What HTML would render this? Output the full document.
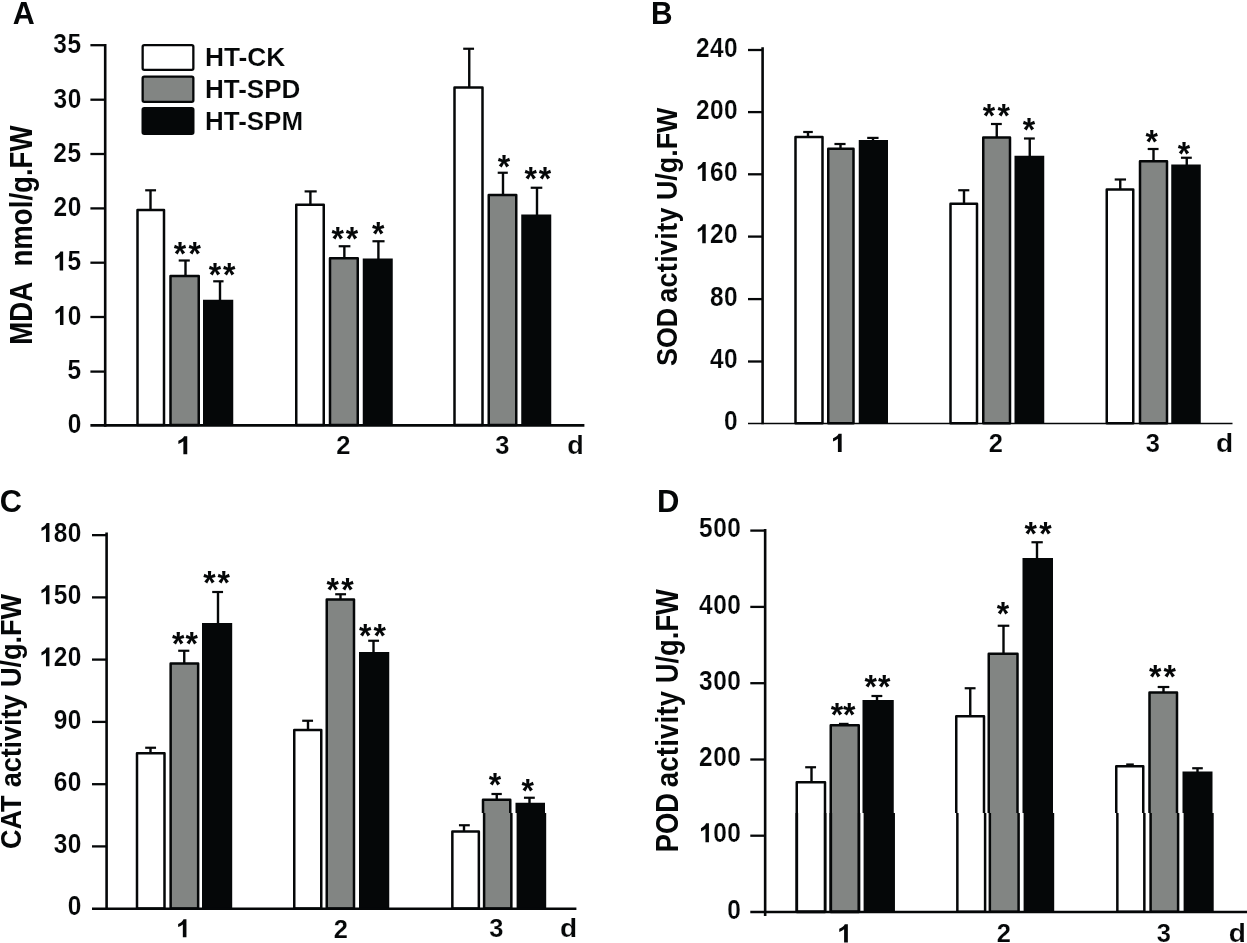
<!DOCTYPE html>
<html><head><meta charset="utf-8"><title>Figure</title>
<style>
html,body{margin:0;padding:0;background:#fff;}
svg{display:block;filter:blur(0.35px);}
text{font-family:"Liberation Sans",sans-serif;font-weight:bold;fill:#050708;stroke:#fff;stroke-width:0.15px;vector-effect:non-scaling-stroke;}
text.st{stroke:none;}
</style></head>
<body>
<svg width="1247" height="943" viewBox="0 0 1247 943">
<rect width="1247" height="943" fill="#fff"/>
<rect x="137.50" y="210.00" width="26.50" height="215.10" fill="#fff" stroke="#050708" stroke-width="2.5" stroke-linejoin="round"/>
<rect x="170.50" y="276.00" width="28.25" height="149.10" fill="#828583" stroke="#050708" stroke-width="2.5" stroke-linejoin="round"/>
<rect x="203.00" y="299.75" width="30.25" height="125.65" fill="#050708"/>
<rect x="296.25" y="204.75" width="27.50" height="220.35" fill="#fff" stroke="#050708" stroke-width="2.5" stroke-linejoin="round"/>
<rect x="330.00" y="258.35" width="27.75" height="166.75" fill="#828583" stroke="#050708" stroke-width="2.5" stroke-linejoin="round"/>
<rect x="362.75" y="258.50" width="30.00" height="166.90" fill="#050708"/>
<rect x="454.50" y="87.50" width="28.00" height="337.60" fill="#fff" stroke="#050708" stroke-width="2.5" stroke-linejoin="round"/>
<rect x="488.75" y="195.00" width="27.50" height="230.10" fill="#828583" stroke="#050708" stroke-width="2.5" stroke-linejoin="round"/>
<rect x="521.25" y="214.50" width="30.00" height="210.90" fill="#050708"/>
<line x1="150.50" y1="190.30" x2="150.50" y2="209.75" stroke="#050708" stroke-width="2.4" stroke-linecap="butt"/>
<line x1="145.20" y1="190.30" x2="156.05" y2="190.30" stroke="#050708" stroke-width="2.2" stroke-linecap="butt"/>
<line x1="185.50" y1="260.50" x2="185.50" y2="275.75" stroke="#050708" stroke-width="2.4" stroke-linecap="butt"/>
<line x1="178.70" y1="260.50" x2="189.80" y2="260.50" stroke="#050708" stroke-width="2.2" stroke-linecap="butt"/>
<line x1="220.00" y1="281.30" x2="220.00" y2="300.75" stroke="#050708" stroke-width="2.4" stroke-linecap="butt"/>
<line x1="213.20" y1="281.30" x2="223.55" y2="281.30" stroke="#050708" stroke-width="2.2" stroke-linecap="butt"/>
<line x1="310.40" y1="191.40" x2="310.40" y2="204.50" stroke="#050708" stroke-width="2.4" stroke-linecap="butt"/>
<line x1="304.60" y1="191.40" x2="316.70" y2="191.40" stroke="#050708" stroke-width="2.2" stroke-linecap="butt"/>
<line x1="344.35" y1="246.25" x2="344.35" y2="258.10" stroke="#050708" stroke-width="2.4" stroke-linecap="butt"/>
<line x1="338.70" y1="246.25" x2="350.40" y2="246.25" stroke="#050708" stroke-width="2.2" stroke-linecap="butt"/>
<line x1="378.40" y1="241.25" x2="378.40" y2="259.50" stroke="#050708" stroke-width="2.4" stroke-linecap="butt"/>
<line x1="372.45" y1="241.25" x2="384.55" y2="241.25" stroke="#050708" stroke-width="2.2" stroke-linecap="butt"/>
<line x1="469.25" y1="48.75" x2="469.25" y2="87.25" stroke="#050708" stroke-width="2.4" stroke-linecap="butt"/>
<line x1="463.20" y1="48.75" x2="474.05" y2="48.75" stroke="#050708" stroke-width="2.2" stroke-linecap="butt"/>
<line x1="503.00" y1="172.75" x2="503.00" y2="194.75" stroke="#050708" stroke-width="2.4" stroke-linecap="butt"/>
<line x1="497.70" y1="172.75" x2="507.80" y2="172.75" stroke="#050708" stroke-width="2.2" stroke-linecap="butt"/>
<line x1="537.00" y1="187.75" x2="537.00" y2="215.50" stroke="#050708" stroke-width="2.4" stroke-linecap="butt"/>
<line x1="530.70" y1="187.75" x2="542.30" y2="187.75" stroke="#050708" stroke-width="2.2" stroke-linecap="butt"/>
<line x1="105.20" y1="43.90" x2="105.20" y2="426.70" stroke="#050708" stroke-width="2.6" stroke-linecap="butt"/>
<line x1="90.40" y1="425.40" x2="584.40" y2="425.40" stroke="#050708" stroke-width="2.6" stroke-linecap="butt"/>
<line x1="90.40" y1="45.20" x2="105.20" y2="45.20" stroke="#050708" stroke-width="2.3" stroke-linecap="butt"/>
<text transform="matrix(0.2446 0 0 0.2709 53.28 53.08)" font-size="100">3</text>
<text transform="matrix(0.2446 0 0 0.2709 67.40 53.08)" font-size="100">5</text>
<line x1="90.40" y1="99.70" x2="105.20" y2="99.70" stroke="#050708" stroke-width="2.3" stroke-linecap="butt"/>
<text transform="matrix(0.2446 0 0 0.2709 53.59 107.58)" font-size="100">3</text>
<text transform="matrix(0.2446 0 0 0.2709 67.70 107.58)" font-size="100">0</text>
<line x1="90.40" y1="154.00" x2="105.20" y2="154.00" stroke="#050708" stroke-width="2.3" stroke-linecap="butt"/>
<text transform="matrix(0.2446 0 0 0.2709 53.28 161.91)" font-size="100">2</text>
<text transform="matrix(0.2446 0 0 0.2709 67.40 161.91)" font-size="100">5</text>
<line x1="90.40" y1="208.40" x2="105.20" y2="208.40" stroke="#050708" stroke-width="2.3" stroke-linecap="butt"/>
<text transform="matrix(0.2446 0 0 0.2709 53.59 216.31)" font-size="100">2</text>
<text transform="matrix(0.2446 0 0 0.2709 67.70 216.31)" font-size="100">0</text>
<line x1="90.40" y1="262.70" x2="105.20" y2="262.70" stroke="#050708" stroke-width="2.3" stroke-linecap="butt"/>
<path d="M63.14 270.48 L59.67 270.48 L59.67 256.83 Q57.76 258.69 55.18 259.58 L55.18 256.29 Q56.54 255.83 58.13 254.53 Q59.73 253.24 60.32 251.51 L63.14 251.51 Z" fill="#050708"/>
<text transform="matrix(0.2446 0 0 0.2709 67.40 270.48)" font-size="100">5</text>
<line x1="90.40" y1="317.00" x2="105.20" y2="317.00" stroke="#050708" stroke-width="2.3" stroke-linecap="butt"/>
<path d="M63.45 324.91 L59.97 324.91 L59.97 311.27 Q58.07 313.12 55.49 314.01 L55.49 310.73 Q56.85 310.27 58.44 308.97 Q60.04 307.68 60.63 305.95 L63.45 305.95 Z" fill="#050708"/>
<text transform="matrix(0.2446 0 0 0.2709 67.70 324.91)" font-size="100">0</text>
<line x1="90.40" y1="371.60" x2="105.20" y2="371.60" stroke="#050708" stroke-width="2.3" stroke-linecap="butt"/>
<text transform="matrix(0.2446 0 0 0.2709 67.40 379.38)" font-size="100">5</text>
<text transform="matrix(0.2446 0 0 0.2709 67.70 433.31)" font-size="100">0</text>
<path d="M187.25 454.35 L183.37 454.35 L183.37 441.26 Q181.24 443.04 178.35 443.89 L178.35 440.74 Q179.87 440.29 181.65 439.05 Q183.44 437.81 184.10 436.15 L187.25 436.15 Z" fill="#050708"/>
<text transform="matrix(0.2551 0 0 0.2630 336.23 454.47)" font-size="100">2</text>
<text transform="matrix(0.2551 0 0 0.2630 495.13 454.46)" font-size="100">3</text>
<text transform="matrix(0.2703 0 0 0.2578 567.27 454.39)" font-size="100">d</text>
<text transform="matrix(0.3045 0 0 0.3049 12.74 24.06)" font-size="100" class="st">A</text>
<text class="st" transform="matrix(0 -0.2761 0.3069 0 32.00 344.76)" font-size="100">MDA&#160;&#160;nmol/g.FW</text>
<text transform="matrix(0.3195 0 0 0.3356 173.77 265.12)" font-size="100" class="st">*</text>
<text transform="matrix(0.3195 0 0 0.3356 188.42 265.12)" font-size="100" class="st">*</text>
<text transform="matrix(0.3195 0 0 0.3329 208.82 285.59)" font-size="100" class="st">*</text>
<text transform="matrix(0.3195 0 0 0.3329 223.12 285.59)" font-size="100" class="st">*</text>
<text transform="matrix(0.3195 0 0 0.3289 331.42 250.36)" font-size="100" class="st">*</text>
<text transform="matrix(0.3195 0 0 0.3289 345.72 250.36)" font-size="100" class="st">*</text>
<text transform="matrix(0.3195 0 0 0.3356 372.10 244.97)" font-size="100" class="st">*</text>
<text transform="matrix(0.3195 0 0 0.3329 497.72 177.79)" font-size="100" class="st">*</text>
<text transform="matrix(0.3195 0 0 0.3329 524.42 189.79)" font-size="100" class="st">*</text>
<text transform="matrix(0.3195 0 0 0.3329 538.77 189.79)" font-size="100" class="st">*</text>
<rect x="795.50" y="137.00" width="27.00" height="286.20" fill="#fff" stroke="#050708" stroke-width="2.5" stroke-linejoin="round"/>
<rect x="828.25" y="148.75" width="25.25" height="274.45" fill="#828583" stroke="#050708" stroke-width="2.5" stroke-linejoin="round"/>
<rect x="858.75" y="140.00" width="29.25" height="283.50" fill="#050708"/>
<rect x="950.50" y="203.75" width="26.50" height="219.45" fill="#fff" stroke="#050708" stroke-width="2.5" stroke-linejoin="round"/>
<rect x="983.25" y="137.50" width="26.75" height="285.70" fill="#828583" stroke="#050708" stroke-width="2.5" stroke-linejoin="round"/>
<rect x="1014.50" y="155.75" width="29.75" height="267.75" fill="#050708"/>
<rect x="1106.75" y="189.50" width="26.50" height="233.70" fill="#fff" stroke="#050708" stroke-width="2.5" stroke-linejoin="round"/>
<rect x="1140.00" y="161.25" width="27.00" height="261.95" fill="#828583" stroke="#050708" stroke-width="2.5" stroke-linejoin="round"/>
<rect x="1171.25" y="164.50" width="29.50" height="259.00" fill="#050708"/>
<line x1="808.00" y1="132.00" x2="808.00" y2="136.75" stroke="#050708" stroke-width="2.4" stroke-linecap="butt"/>
<line x1="803.20" y1="132.00" x2="812.80" y2="132.00" stroke="#050708" stroke-width="2.2" stroke-linecap="butt"/>
<line x1="840.50" y1="144.00" x2="840.50" y2="148.50" stroke="#050708" stroke-width="2.4" stroke-linecap="butt"/>
<line x1="834.45" y1="144.00" x2="845.55" y2="144.00" stroke="#050708" stroke-width="2.2" stroke-linecap="butt"/>
<line x1="873.00" y1="137.90" x2="873.00" y2="141.00" stroke="#050708" stroke-width="2.4" stroke-linecap="butt"/>
<line x1="867.20" y1="137.90" x2="878.55" y2="137.90" stroke="#050708" stroke-width="2.2" stroke-linecap="butt"/>
<line x1="964.00" y1="190.25" x2="964.00" y2="203.50" stroke="#050708" stroke-width="2.4" stroke-linecap="butt"/>
<line x1="958.20" y1="190.25" x2="969.30" y2="190.25" stroke="#050708" stroke-width="2.2" stroke-linecap="butt"/>
<line x1="996.75" y1="124.00" x2="996.75" y2="137.25" stroke="#050708" stroke-width="2.4" stroke-linecap="butt"/>
<line x1="990.95" y1="124.00" x2="1001.80" y2="124.00" stroke="#050708" stroke-width="2.2" stroke-linecap="butt"/>
<line x1="1029.75" y1="138.50" x2="1029.75" y2="156.75" stroke="#050708" stroke-width="2.4" stroke-linecap="butt"/>
<line x1="1023.95" y1="138.50" x2="1034.80" y2="138.50" stroke="#050708" stroke-width="2.2" stroke-linecap="butt"/>
<line x1="1120.25" y1="179.50" x2="1120.25" y2="189.25" stroke="#050708" stroke-width="2.4" stroke-linecap="butt"/>
<line x1="1114.70" y1="179.50" x2="1126.05" y2="179.50" stroke="#050708" stroke-width="2.2" stroke-linecap="butt"/>
<line x1="1153.50" y1="149.00" x2="1153.50" y2="161.00" stroke="#050708" stroke-width="2.4" stroke-linecap="butt"/>
<line x1="1147.70" y1="149.00" x2="1158.55" y2="149.00" stroke="#050708" stroke-width="2.2" stroke-linecap="butt"/>
<line x1="1186.75" y1="157.75" x2="1186.75" y2="165.50" stroke="#050708" stroke-width="2.4" stroke-linecap="butt"/>
<line x1="1180.95" y1="157.75" x2="1191.80" y2="157.75" stroke="#050708" stroke-width="2.2" stroke-linecap="butt"/>
<line x1="762.60" y1="47.20" x2="762.60" y2="424.30" stroke="#050708" stroke-width="2.6" stroke-linecap="butt"/>
<line x1="748.00" y1="423.50" x2="1232.50" y2="423.50" stroke="#050708" stroke-width="1.6" stroke-linecap="butt"/>
<line x1="748.00" y1="50.00" x2="762.60" y2="50.00" stroke="#050708" stroke-width="2.3" stroke-linecap="butt"/>
<text transform="matrix(0.2446 0 0 0.2709 695.88 56.61)" font-size="100">2</text>
<text transform="matrix(0.2446 0 0 0.2709 710.00 56.61)" font-size="100">4</text>
<text transform="matrix(0.2446 0 0 0.2709 724.10 56.61)" font-size="100">0</text>
<line x1="748.00" y1="112.10" x2="762.60" y2="112.10" stroke="#050708" stroke-width="2.3" stroke-linecap="butt"/>
<text transform="matrix(0.2446 0 0 0.2709 695.88 118.71)" font-size="100">2</text>
<text transform="matrix(0.2446 0 0 0.2709 709.99 118.71)" font-size="100">0</text>
<text transform="matrix(0.2446 0 0 0.2709 724.10 118.71)" font-size="100">0</text>
<line x1="748.00" y1="174.30" x2="762.60" y2="174.30" stroke="#050708" stroke-width="2.3" stroke-linecap="butt"/>
<path d="M705.74 180.91 L702.26 180.91 L702.26 167.27 Q700.36 169.12 697.77 170.01 L697.77 166.73 Q699.13 166.27 700.73 164.97 Q702.32 163.68 702.92 161.95 L705.74 161.95 Z" fill="#050708"/>
<text transform="matrix(0.2446 0 0 0.2709 709.99 180.91)" font-size="100">6</text>
<text transform="matrix(0.2446 0 0 0.2709 724.10 180.91)" font-size="100">0</text>
<line x1="748.00" y1="236.60" x2="762.60" y2="236.60" stroke="#050708" stroke-width="2.3" stroke-linecap="butt"/>
<path d="M705.74 243.21 L702.26 243.21 L702.26 229.57 Q700.36 231.42 697.77 232.31 L697.77 229.03 Q699.13 228.57 700.73 227.27 Q702.32 225.98 702.92 224.25 L705.74 224.25 Z" fill="#050708"/>
<text transform="matrix(0.2446 0 0 0.2709 709.99 243.21)" font-size="100">2</text>
<text transform="matrix(0.2446 0 0 0.2709 724.10 243.21)" font-size="100">0</text>
<line x1="748.00" y1="299.10" x2="762.60" y2="299.10" stroke="#050708" stroke-width="2.3" stroke-linecap="butt"/>
<text transform="matrix(0.2446 0 0 0.2709 709.99 305.71)" font-size="100">8</text>
<text transform="matrix(0.2446 0 0 0.2709 724.10 305.71)" font-size="100">0</text>
<line x1="748.00" y1="361.50" x2="762.60" y2="361.50" stroke="#050708" stroke-width="2.3" stroke-linecap="butt"/>
<text transform="matrix(0.2446 0 0 0.2709 710.00 368.11)" font-size="100">4</text>
<text transform="matrix(0.2446 0 0 0.2709 724.10 368.11)" font-size="100">0</text>
<text transform="matrix(0.2446 0 0 0.2709 724.10 430.11)" font-size="100">0</text>
<path d="M841.65 451.90 L837.90 451.90 L837.90 438.81 Q835.84 440.59 833.05 441.44 L833.05 438.29 Q834.52 437.84 836.24 436.60 Q837.96 435.36 838.61 433.70 L841.65 433.70 Z" fill="#050708"/>
<text transform="matrix(0.2551 0 0 0.2630 988.73 451.97)" font-size="100">2</text>
<text transform="matrix(0.2551 0 0 0.2630 1145.68 451.81)" font-size="100">3</text>
<text transform="matrix(0.2812 0 0 0.2599 1216.08 451.94)" font-size="100">d</text>
<text transform="matrix(0.2984 0 0 0.3049 650.99 24.06)" font-size="100" class="st">B</text>
<text class="st" transform="matrix(0 -0.2690 0.2953 0 677.20 366.01)" font-size="100">SOD <tspan dx="-9.50 1.36 1.36 1.36 1.36 1.36 1.36 1.36">activity</tspan> U/g.FW</text>
<text transform="matrix(0.3195 0 0 0.3262 982.67 127.07)" font-size="100" class="st">*</text>
<text transform="matrix(0.3195 0 0 0.3262 997.52 127.07)" font-size="100" class="st">*</text>
<text transform="matrix(0.3195 0 0 0.3262 1022.85 141.32)" font-size="100" class="st">*</text>
<text transform="matrix(0.3195 0 0 0.3262 1145.60 152.57)" font-size="100" class="st">*</text>
<text transform="matrix(0.3195 0 0 0.3262 1177.72 164.57)" font-size="100" class="st">*</text>
<rect x="137.00" y="753.25" width="27.50" height="155.15" fill="#fff" stroke="#050708" stroke-width="2.5" stroke-linejoin="round"/>
<rect x="170.65" y="663.55" width="27.50" height="244.85" fill="#828583" stroke="#050708" stroke-width="2.5" stroke-linejoin="round"/>
<rect x="202.00" y="623.00" width="30.20" height="285.70" fill="#050708"/>
<rect x="294.25" y="730.00" width="27.00" height="178.40" fill="#fff" stroke="#050708" stroke-width="2.5" stroke-linejoin="round"/>
<rect x="326.75" y="599.50" width="27.25" height="308.90" fill="#828583" stroke="#050708" stroke-width="2.5" stroke-linejoin="round"/>
<rect x="359.00" y="652.00" width="30.25" height="256.70" fill="#050708"/>
<defs><clipPath id="cu2"><rect x="0" y="0" width="1247" height="812.9"/></clipPath>
<clipPath id="cl2"><rect x="0" y="812.9" width="1247" height="130.10000000000002"/></clipPath></defs>
<g clip-path="url(#cu2)">
<rect x="451.25" y="831.50" width="26.50" height="76.90" fill="#fff" stroke="#050708" stroke-width="2.5" stroke-linejoin="round"/>
<rect x="483.00" y="799.75" width="27.25" height="108.65" fill="#828583" stroke="#050708" stroke-width="2.5" stroke-linejoin="round"/>
<rect x="515.50" y="802.75" width="29.50" height="105.95" fill="#050708"/>
</g>
<g clip-path="url(#cl2)">
<rect x="452.35" y="831.50" width="26.50" height="76.90" fill="#fff" stroke="#050708" stroke-width="2.5" stroke-linejoin="round"/>
<rect x="484.10" y="799.75" width="27.25" height="108.65" fill="#828583" stroke="#050708" stroke-width="2.5" stroke-linejoin="round"/>
<rect x="516.60" y="802.75" width="29.60" height="105.95" fill="#050708"/>
</g>
<line x1="150.50" y1="747.75" x2="150.50" y2="753.00" stroke="#050708" stroke-width="2.4" stroke-linecap="butt"/>
<line x1="145.20" y1="747.75" x2="156.05" y2="747.75" stroke="#050708" stroke-width="2.2" stroke-linecap="butt"/>
<line x1="184.25" y1="650.75" x2="184.25" y2="663.30" stroke="#050708" stroke-width="2.4" stroke-linecap="butt"/>
<line x1="178.20" y1="650.75" x2="189.30" y2="650.75" stroke="#050708" stroke-width="2.2" stroke-linecap="butt"/>
<line x1="218.00" y1="592.00" x2="218.00" y2="624.00" stroke="#050708" stroke-width="2.4" stroke-linecap="butt"/>
<line x1="212.20" y1="592.00" x2="223.05" y2="592.00" stroke="#050708" stroke-width="2.2" stroke-linecap="butt"/>
<line x1="308.00" y1="720.75" x2="308.00" y2="729.75" stroke="#050708" stroke-width="2.4" stroke-linecap="butt"/>
<line x1="302.20" y1="720.75" x2="313.05" y2="720.75" stroke="#050708" stroke-width="2.2" stroke-linecap="butt"/>
<line x1="340.50" y1="594.25" x2="340.50" y2="599.25" stroke="#050708" stroke-width="2.4" stroke-linecap="butt"/>
<line x1="335.20" y1="594.25" x2="346.05" y2="594.25" stroke="#050708" stroke-width="2.2" stroke-linecap="butt"/>
<line x1="373.50" y1="640.75" x2="373.50" y2="653.00" stroke="#050708" stroke-width="2.4" stroke-linecap="butt"/>
<line x1="368.20" y1="640.75" x2="379.05" y2="640.75" stroke="#050708" stroke-width="2.2" stroke-linecap="butt"/>
<line x1="464.00" y1="825.25" x2="464.00" y2="831.25" stroke="#050708" stroke-width="2.4" stroke-linecap="butt"/>
<line x1="458.95" y1="825.25" x2="469.80" y2="825.25" stroke="#050708" stroke-width="2.2" stroke-linecap="butt"/>
<line x1="496.75" y1="794.00" x2="496.75" y2="799.50" stroke="#050708" stroke-width="2.4" stroke-linecap="butt"/>
<line x1="491.45" y1="794.00" x2="501.80" y2="794.00" stroke="#050708" stroke-width="2.2" stroke-linecap="butt"/>
<line x1="529.50" y1="797.75" x2="529.50" y2="803.75" stroke="#050708" stroke-width="2.4" stroke-linecap="butt"/>
<line x1="523.95" y1="797.75" x2="534.80" y2="797.75" stroke="#050708" stroke-width="2.2" stroke-linecap="butt"/>
<line x1="106.60" y1="532.60" x2="106.60" y2="909.95" stroke="#050708" stroke-width="2.6" stroke-linecap="butt"/>
<line x1="92.00" y1="908.70" x2="576.40" y2="908.70" stroke="#050708" stroke-width="2.5" stroke-linecap="butt"/>
<line x1="92.00" y1="535.15" x2="106.60" y2="535.15" stroke="#050708" stroke-width="2.3" stroke-linecap="butt"/>
<path d="M49.44 541.91 L45.96 541.91 L45.96 528.27 Q44.06 530.12 41.47 531.01 L41.47 527.73 Q42.83 527.27 44.43 525.97 Q46.02 524.68 46.62 522.95 L49.44 522.95 Z" fill="#050708"/>
<text transform="matrix(0.2446 0 0 0.2709 53.69 541.91)" font-size="100">8</text>
<text transform="matrix(0.2446 0 0 0.2709 67.80 541.91)" font-size="100">0</text>
<line x1="92.00" y1="597.40" x2="106.60" y2="597.40" stroke="#050708" stroke-width="2.3" stroke-linecap="butt"/>
<path d="M49.44 604.16 L45.96 604.16 L45.96 590.52 Q44.06 592.37 41.47 593.26 L41.47 589.98 Q42.83 589.52 44.43 588.22 Q46.02 586.93 46.62 585.20 L49.44 585.20 Z" fill="#050708"/>
<text transform="matrix(0.2446 0 0 0.2709 53.69 604.16)" font-size="100">5</text>
<text transform="matrix(0.2446 0 0 0.2709 67.80 604.16)" font-size="100">0</text>
<line x1="92.00" y1="659.60" x2="106.60" y2="659.60" stroke="#050708" stroke-width="2.3" stroke-linecap="butt"/>
<path d="M49.44 666.36 L45.96 666.36 L45.96 652.72 Q44.06 654.57 41.47 655.46 L41.47 652.18 Q42.83 651.72 44.43 650.42 Q46.02 649.13 46.62 647.40 L49.44 647.40 Z" fill="#050708"/>
<text transform="matrix(0.2446 0 0 0.2709 53.69 666.36)" font-size="100">2</text>
<text transform="matrix(0.2446 0 0 0.2709 67.80 666.36)" font-size="100">0</text>
<line x1="92.00" y1="721.90" x2="106.60" y2="721.90" stroke="#050708" stroke-width="2.3" stroke-linecap="butt"/>
<text transform="matrix(0.2446 0 0 0.2709 53.69 728.66)" font-size="100">9</text>
<text transform="matrix(0.2446 0 0 0.2709 67.80 728.66)" font-size="100">0</text>
<line x1="92.00" y1="784.20" x2="106.60" y2="784.20" stroke="#050708" stroke-width="2.3" stroke-linecap="butt"/>
<text transform="matrix(0.2446 0 0 0.2709 53.69 790.96)" font-size="100">6</text>
<text transform="matrix(0.2446 0 0 0.2709 67.80 790.96)" font-size="100">0</text>
<line x1="92.00" y1="846.40" x2="106.60" y2="846.40" stroke="#050708" stroke-width="2.3" stroke-linecap="butt"/>
<text transform="matrix(0.2446 0 0 0.2709 53.69 853.13)" font-size="100">3</text>
<text transform="matrix(0.2446 0 0 0.2709 67.80 853.13)" font-size="100">0</text>
<text transform="matrix(0.2446 0 0 0.2709 67.80 915.46)" font-size="100">0</text>
<path d="M186.45 937.35 L182.83 937.35 L182.83 924.40 Q180.84 926.16 178.15 927.00 L178.15 923.89 Q179.57 923.45 181.23 922.22 Q182.89 920.99 183.51 919.35 L186.45 919.35 Z" fill="#050708"/>
<text transform="matrix(0.2551 0 0 0.2630 333.73 937.52)" font-size="100">2</text>
<text transform="matrix(0.2551 0 0 0.2630 489.33 937.36)" font-size="100">3</text>
<text transform="matrix(0.2812 0 0 0.2585 559.88 937.44)" font-size="100">d</text>
<text transform="matrix(0.3075 0 0 0.3124 -0.17 511.89)" font-size="100" class="st">C</text>
<text class="st" transform="matrix(0 -0.2708 0.2895 0 21.20 849.08)" font-size="100">CAT <tspan dx="2.50 -0.36 -0.36 -0.36 -0.36 -0.36 -0.36 -0.36">activity</tspan> U/g.FW</text>
<text transform="matrix(0.3195 0 0 0.3262 171.92 654.57)" font-size="100" class="st">*</text>
<text transform="matrix(0.3195 0 0 0.3262 185.52 654.57)" font-size="100" class="st">*</text>
<text transform="matrix(0.3195 0 0 0.3262 203.17 593.82)" font-size="100" class="st">*</text>
<text transform="matrix(0.3195 0 0 0.3262 217.52 593.82)" font-size="100" class="st">*</text>
<text transform="matrix(0.3195 0 0 0.3262 326.42 600.82)" font-size="100" class="st">*</text>
<text transform="matrix(0.3195 0 0 0.3262 341.27 600.82)" font-size="100" class="st">*</text>
<text transform="matrix(0.3195 0 0 0.3329 358.92 647.29)" font-size="100" class="st">*</text>
<text transform="matrix(0.3195 0 0 0.3329 373.52 647.29)" font-size="100" class="st">*</text>
<text transform="matrix(0.3195 0 0 0.3262 488.72 795.82)" font-size="100" class="st">*</text>
<text transform="matrix(0.3195 0 0 0.3262 521.60 802.07)" font-size="100" class="st">*</text>
<defs><clipPath id="cu3"><rect x="0" y="0" width="1247" height="812.9"/></clipPath>
<clipPath id="cl3"><rect x="0" y="812.9" width="1247" height="130.10000000000002"/></clipPath></defs>
<g clip-path="url(#cu3)">
<rect x="796.75" y="782.25" width="28.25" height="129.45" fill="#fff" stroke="#050708" stroke-width="2.5" stroke-linejoin="round"/>
<rect x="830.75" y="725.25" width="28.00" height="186.45" fill="#828583" stroke="#050708" stroke-width="2.5" stroke-linejoin="round"/>
<rect x="862.50" y="700.00" width="31.25" height="212.00" fill="#050708"/>
<rect x="956.25" y="716.25" width="27.75" height="195.45" fill="#fff" stroke="#050708" stroke-width="2.5" stroke-linejoin="round"/>
<rect x="988.75" y="653.75" width="28.75" height="257.95" fill="#828583" stroke="#050708" stroke-width="2.5" stroke-linejoin="round"/>
<rect x="1022.50" y="558.00" width="30.50" height="354.00" fill="#050708"/>
<rect x="1116.25" y="766.25" width="27.00" height="145.45" fill="#fff" stroke="#050708" stroke-width="2.5" stroke-linejoin="round"/>
<rect x="1149.50" y="692.50" width="27.50" height="219.20" fill="#828583" stroke="#050708" stroke-width="2.5" stroke-linejoin="round"/>
<rect x="1182.50" y="771.50" width="30.00" height="140.50" fill="#050708"/>
</g>
<g clip-path="url(#cl3)">
<rect x="796.70" y="782.45" width="28.45" height="129.25" fill="#fff" stroke="#050708" stroke-width="2.9" stroke-linejoin="round"/>
<rect x="830.70" y="725.45" width="28.20" height="186.25" fill="#828583" stroke="#050708" stroke-width="2.9" stroke-linejoin="round"/>
<rect x="863.60" y="700.00" width="31.35" height="212.00" fill="#050708"/>
<rect x="957.35" y="716.25" width="27.75" height="195.45" fill="#fff" stroke="#050708" stroke-width="2.5" stroke-linejoin="round"/>
<rect x="989.85" y="653.75" width="28.75" height="257.95" fill="#828583" stroke="#050708" stroke-width="2.5" stroke-linejoin="round"/>
<rect x="1023.60" y="558.00" width="30.60" height="354.00" fill="#050708"/>
<rect x="1117.35" y="766.25" width="27.00" height="145.45" fill="#fff" stroke="#050708" stroke-width="2.5" stroke-linejoin="round"/>
<rect x="1150.60" y="692.50" width="27.50" height="219.20" fill="#828583" stroke="#050708" stroke-width="2.5" stroke-linejoin="round"/>
<rect x="1183.60" y="771.50" width="30.10" height="140.50" fill="#050708"/>
</g>
<line x1="811.50" y1="767.25" x2="811.50" y2="782.00" stroke="#050708" stroke-width="2.4" stroke-linecap="butt"/>
<line x1="805.20" y1="767.25" x2="816.05" y2="767.25" stroke="#050708" stroke-width="2.2" stroke-linecap="butt"/>
<line x1="844.00" y1="723.90" x2="844.00" y2="725.00" stroke="#050708" stroke-width="2.4" stroke-linecap="butt"/>
<line x1="838.95" y1="723.90" x2="848.55" y2="723.90" stroke="#050708" stroke-width="2.2" stroke-linecap="butt"/>
<line x1="877.00" y1="696.00" x2="877.00" y2="701.00" stroke="#050708" stroke-width="2.4" stroke-linecap="butt"/>
<line x1="871.45" y1="696.00" x2="882.30" y2="696.00" stroke="#050708" stroke-width="2.2" stroke-linecap="butt"/>
<line x1="970.25" y1="688.25" x2="970.25" y2="716.00" stroke="#050708" stroke-width="2.4" stroke-linecap="butt"/>
<line x1="964.70" y1="688.25" x2="975.55" y2="688.25" stroke="#050708" stroke-width="2.2" stroke-linecap="butt"/>
<line x1="1003.50" y1="625.75" x2="1003.50" y2="653.50" stroke="#050708" stroke-width="2.4" stroke-linecap="butt"/>
<line x1="997.70" y1="625.75" x2="1009.30" y2="625.75" stroke="#050708" stroke-width="2.2" stroke-linecap="butt"/>
<line x1="1037.00" y1="542.25" x2="1037.00" y2="559.00" stroke="#050708" stroke-width="2.4" stroke-linecap="butt"/>
<line x1="1031.45" y1="542.25" x2="1042.80" y2="542.25" stroke="#050708" stroke-width="2.2" stroke-linecap="butt"/>
<line x1="1130.00" y1="764.50" x2="1130.00" y2="766.00" stroke="#050708" stroke-width="2.4" stroke-linecap="butt"/>
<line x1="1126.20" y1="764.50" x2="1133.80" y2="764.50" stroke="#050708" stroke-width="2.2" stroke-linecap="butt"/>
<line x1="1163.50" y1="687.00" x2="1163.50" y2="692.25" stroke="#050708" stroke-width="2.4" stroke-linecap="butt"/>
<line x1="1157.70" y1="687.00" x2="1169.30" y2="687.00" stroke="#050708" stroke-width="2.2" stroke-linecap="butt"/>
<line x1="1197.50" y1="768.25" x2="1197.50" y2="772.50" stroke="#050708" stroke-width="2.4" stroke-linecap="butt"/>
<line x1="1192.20" y1="768.25" x2="1202.80" y2="768.25" stroke="#050708" stroke-width="2.2" stroke-linecap="butt"/>
<line x1="765.15" y1="529.10" x2="765.15" y2="915.90" stroke="#050708" stroke-width="2.6" stroke-linecap="butt"/>
<line x1="750.30" y1="912.00" x2="1247.00" y2="912.00" stroke="#050708" stroke-width="2.6" stroke-linecap="butt"/>
<line x1="750.30" y1="530.60" x2="765.15" y2="530.60" stroke="#050708" stroke-width="2.3" stroke-linecap="butt"/>
<text transform="matrix(0.2446 0 0 0.2709 699.08 537.21)" font-size="100">5</text>
<text transform="matrix(0.2446 0 0 0.2709 713.19 537.21)" font-size="100">0</text>
<text transform="matrix(0.2446 0 0 0.2709 727.30 537.21)" font-size="100">0</text>
<line x1="750.30" y1="606.90" x2="765.15" y2="606.90" stroke="#050708" stroke-width="2.3" stroke-linecap="butt"/>
<text transform="matrix(0.2446 0 0 0.2709 699.09 613.51)" font-size="100">4</text>
<text transform="matrix(0.2446 0 0 0.2709 713.19 613.51)" font-size="100">0</text>
<text transform="matrix(0.2446 0 0 0.2709 727.30 613.51)" font-size="100">0</text>
<line x1="750.30" y1="683.20" x2="765.15" y2="683.20" stroke="#050708" stroke-width="2.3" stroke-linecap="butt"/>
<text transform="matrix(0.2446 0 0 0.2709 699.08 689.78)" font-size="100">3</text>
<text transform="matrix(0.2446 0 0 0.2709 713.19 689.78)" font-size="100">0</text>
<text transform="matrix(0.2446 0 0 0.2709 727.30 689.78)" font-size="100">0</text>
<line x1="750.30" y1="759.50" x2="765.15" y2="759.50" stroke="#050708" stroke-width="2.3" stroke-linecap="butt"/>
<text transform="matrix(0.2446 0 0 0.2709 699.08 766.11)" font-size="100">2</text>
<text transform="matrix(0.2446 0 0 0.2709 713.19 766.11)" font-size="100">0</text>
<text transform="matrix(0.2446 0 0 0.2709 727.30 766.11)" font-size="100">0</text>
<line x1="750.30" y1="835.70" x2="765.15" y2="835.70" stroke="#050708" stroke-width="2.3" stroke-linecap="butt"/>
<path d="M708.94 842.31 L705.46 842.31 L705.46 828.67 Q703.56 830.52 700.97 831.41 L700.97 828.13 Q702.33 827.67 703.93 826.37 Q705.52 825.08 706.12 823.35 L708.94 823.35 Z" fill="#050708"/>
<text transform="matrix(0.2446 0 0 0.2709 713.19 842.31)" font-size="100">0</text>
<text transform="matrix(0.2446 0 0 0.2709 727.30 842.31)" font-size="100">0</text>
<text transform="matrix(0.2446 0 0 0.2709 727.30 918.61)" font-size="100">0</text>
<path d="M847.85 942.40 L844.10 942.40 L844.10 929.31 Q842.04 931.09 839.25 931.94 L839.25 928.79 Q840.72 928.34 842.44 927.10 Q844.16 925.86 844.81 924.20 L847.85 924.20 Z" fill="#050708"/>
<text transform="matrix(0.2551 0 0 0.2630 996.73 942.47)" font-size="100">2</text>
<text transform="matrix(0.2551 0 0 0.2630 1156.83 942.31)" font-size="100">3</text>
<text transform="matrix(0.2812 0 0 0.2599 1228.68 942.44)" font-size="100">d</text>
<text transform="matrix(0.3102 0 0 0.3055 657.11 511.80)" font-size="100" class="st">D</text>
<text class="st" transform="matrix(0 -0.2738 0.3055 0 678.20 852.25)" font-size="100">POD <tspan dx="-7.00 1.00 1.00 1.00 1.00 1.00 1.00 1.00">activity</tspan> U/g.FW</text>
<text transform="matrix(0.3195 0 0 0.3262 830.67 725.82)" font-size="100" class="st">*</text>
<text transform="matrix(0.3195 0 0 0.3262 843.02 725.82)" font-size="100" class="st">*</text>
<text transform="matrix(0.3195 0 0 0.3262 864.42 698.32)" font-size="100" class="st">*</text>
<text transform="matrix(0.3195 0 0 0.3262 878.02 698.32)" font-size="100" class="st">*</text>
<text transform="matrix(0.3195 0 0 0.3396 996.72 624.75)" font-size="100" class="st">*</text>
<text transform="matrix(0.3195 0 0 0.3329 1024.42 544.79)" font-size="100" class="st">*</text>
<text transform="matrix(0.3195 0 0 0.3329 1039.27 544.79)" font-size="100" class="st">*</text>
<text transform="matrix(0.3195 0 0 0.3262 1148.92 688.32)" font-size="100" class="st">*</text>
<text transform="matrix(0.3195 0 0 0.3262 1163.52 688.32)" font-size="100" class="st">*</text>
<rect x="142.65" y="45.10" width="50.70" height="24.85" rx="1.6" fill="#fff" stroke="#050708" stroke-width="2.3"/>
<rect x="142.65" y="76.55" width="50.70" height="25.40" rx="1.6" fill="#828583" stroke="#050708" stroke-width="2.3"/>
<rect x="142.65" y="108.05" width="50.70" height="25.70" rx="1.6" fill="#050708" stroke="#050708" stroke-width="2.3"/>
<text transform="matrix(0.2633 0 0 0.2587 204.92 65.74)" font-size="100">HT-CK</text>
<text transform="matrix(0.2603 0 0 0.2650 204.94 98.23)" font-size="100">HT-SPD</text>
<text transform="matrix(0.2597 0 0 0.2657 204.95 130.03)" font-size="100">HT-SPM</text>
</svg>
</body></html>
